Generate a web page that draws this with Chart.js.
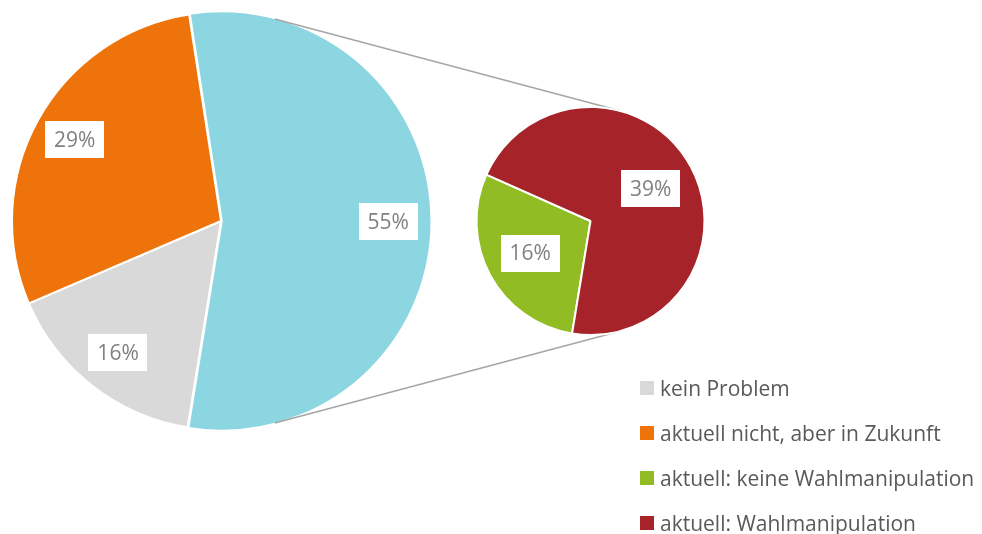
<!DOCTYPE html>
<html>
<head>
<meta charset="utf-8">
<script src="https://cdn.jsdelivr.net/npm/chart.js@4.4.1/dist/chart.umd.min.js"></script>
<style>
  html, body { margin:0; padding:0; background:#fff; }
  #wrap { position:relative; width:982px; height:534px; overflow:hidden; }
  #wrap canvas { position:absolute; left:0; top:0; }
  #legend { position:absolute; left:640px; top:365px; font-family:"Open Sans", Lato, sans-serif; font-size:21px; color:#595959; }
  #legend .row { height:45px; display:flex; align-items:center; white-space:nowrap; }
  #legend .sw { width:14px; height:14px; margin-right:6px; flex:none; }
</style>
</head>
<body>
<div id="wrap">
  <canvas id="c1" width="982" height="534"></canvas>
  <canvas id="c2" width="982" height="534"></canvas>
  <div id="legend"></div>
</div>
<script>
// ---- data ----
const mainLabels = ['aktuell', 'kein Problem', 'aktuell nicht, aber in Zukunft'];
const mainValues = [55, 16, 29];
const mainColors = ['#8CD6E2', '#D9D9D9', '#EE730A'];

const subLabels = ['aktuell: keine Wahlmanipulation', 'aktuell: Wahlmanipulation'];
const subValues = [16, 39];
const subColors = ['#92BC24', '#A6232A'];

const legendLabels = ['kein Problem', 'aktuell nicht, aber in Zukunft', 'aktuell: keine Wahlmanipulation', 'aktuell: Wahlmanipulation'];
const legendColors = ['#D9D9D9', '#EE730A', '#92BC24', '#A6232A'];

// ---- label plugin ----
const boxLabels = {
  id: 'boxLabels',
  afterDatasetsDraw(chart, args, opts) {
    const ctx = chart.ctx;
    const meta = chart.getDatasetMeta(0);
    const vals = chart.data.datasets[0].data;
    ctx.save();
    ctx.font = '21px "Open Sans", Lato, sans-serif';
    ctx.textAlign = 'center';
    ctx.textBaseline = 'middle';
    meta.data.forEach((arc, i) => {
      const p = arc.getProps(['x','y','startAngle','endAngle','outerRadius'], true);
      const mid = (p.startAngle + p.endAngle) / 2;
      const r = p.outerRadius * opts.frac;
      const x = p.x + Math.cos(mid) * r;
      const y = p.y + Math.sin(mid) * r;
      const t = vals[i] + '%';
      const w = ctx.measureText(t).width + 18;
      const h = 37;
      ctx.fillStyle = '#ffffff';
      ctx.fillRect(Math.round(x - w/2), Math.round(y - h/2), Math.round(w), h);
      ctx.fillStyle = '#808080';
      ctx.fillText(t, x, y + 1);
    });
    ctx.restore();
  }
};

// ---- connector plugin (external tangents between the two pies) ----
let chart1 = null;
const connectors = {
  id: 'connectors',
  beforeDatasetsDraw(chart) {
    if (!chart1) return;
    const a1 = chart1.getDatasetMeta(0).data[0];
    const a2 = chart.getDatasetMeta(0).data[0];
    if (!a1 || !a2) return;
    const c1 = {x:a1.x, y:a1.y, r:a1.outerRadius};
    const c2 = {x:a2.x, y:a2.y, r:a2.outerRadius};
    const dx = c2.x - c1.x, dy = c2.y - c1.y;
    const d = Math.hypot(dx, dy);
    const ux = dx / d, uy = dy / d;
    const ct = (c1.r - c2.r) / d;
    const st = Math.sqrt(1 - ct*ct);
    const ctx = chart.ctx;
    ctx.save();
    ctx.strokeStyle = '#A5A5A5';
    ctx.lineWidth = 1.5;
    [1, -1].forEach(s => {
      const nx = ct*ux - s*st*uy;
      const ny = ct*uy + s*st*ux;
      ctx.beginPath();
      ctx.moveTo(c1.x + c1.r*nx, c1.y + c1.r*ny);
      ctx.lineTo(c2.x + c2.r*nx, c2.y + c2.r*ny);
      ctx.stroke();
    });
    ctx.restore();
  }
};

Chart.defaults.font.family = '"Open Sans", Lato, sans-serif';

chart1 = new Chart(document.getElementById('c1'), {
  type: 'pie',
  data: {
    labels: mainLabels,
    datasets: [{
      data: mainValues,
      backgroundColor: mainColors,
      borderColor: '#ffffff',
      borderWidth: 2,
      offset: [3, 0, 0]
    }]
  },
  options: {
    responsive: false,
    animation: false,
    devicePixelRatio: 1,
    rotation: -8.8,
    radius: 209,
    layout: { padding: { left: 12, right: 552, top: 12, bottom: 104 } },
    plugins: { legend: { display: false }, tooltip: { enabled: false }, boxLabels: { frac: 0.8 } }
  },
  plugins: [boxLabels]
});

new Chart(document.getElementById('c2'), {
  type: 'pie',
  data: {
    labels: subLabels,
    datasets: [{
      data: subValues,
      backgroundColor: subColors,
      borderColor: '#ffffff',
      borderWidth: 2
    }]
  },
  options: {
    responsive: false,
    animation: false,
    devicePixelRatio: 1,
    rotation: 189.3,
    radius: 114,
    layout: { padding: { left: 476.5, right: 277.5, top: 107, bottom: 199 } },
    plugins: { legend: { display: false }, tooltip: { enabled: false }, boxLabels: { frac: 0.6 } }
  },
  plugins: [connectors, boxLabels]
});

// ---- legend ----
const lg = document.getElementById('legend');
legendLabels.forEach((l, i) => {
  const row = document.createElement('div');
  row.className = 'row';
  const sw = document.createElement('span');
  sw.className = 'sw';
  sw.style.background = legendColors[i];
  const tx = document.createElement('span');
  tx.textContent = l;
  row.appendChild(sw);
  row.appendChild(tx);
  lg.appendChild(row);
});
</script>
</body>
</html>
